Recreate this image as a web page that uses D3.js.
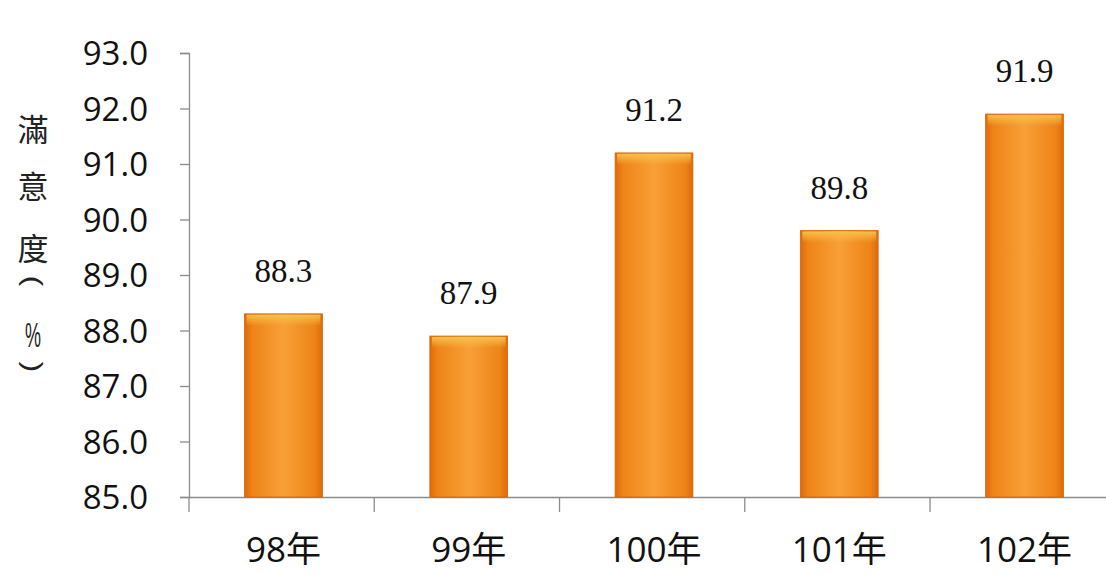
<!DOCTYPE html>
<html>
<head>
<meta charset="utf-8">
<script src="https://cdn.jsdelivr.net/npm/d3@7"></script>
<style>
  html, body { margin: 0; padding: 0; background: #fff; }
  svg { display: block; }
</style>
</head>
<body>
<svg id="chart" width="1106" height="575"></svg>
<script>
// Satisfaction by year (%)
const categories = ["98年", "99年", "100年", "101年", "102年"];
const values = [88.3, 87.9, 91.2, 89.8, 91.9];
const yTicks = [85, 86, 87, 88, 89, 90, 91, 92, 93];
const yTitle = ["滿", "意", "度", "(", "%", ")"];

const svg = d3.select("#chart");
const plot = { left: 189, right: 1119, top: 53, bottom: 497 };
const sans = "'Open Sans', 'Noto Sans CJK TC', sans-serif";

const x = d3.scaleBand()
  .domain(categories)
  .range([plot.left, plot.right])
  .paddingInner(0.58)
  .paddingOuter(0.3);

const y = d3.scaleLinear()
  .domain([85, 93])
  .range([plot.bottom, plot.top]);

// Bar fill: horizontal shading, darker edges
const defs = svg.append("defs");
const g1 = defs.append("linearGradient").attr("id", "barH").attr("x1", 0).attr("x2", 1).attr("y1", 0).attr("y2", 0);
[["0%", "#de6a0a"], ["10%", "#ee8418"], ["50%", "#f8a036"], ["90%", "#ee8418"], ["100%", "#de6a0a"]]
  .forEach(([o, c]) => g1.append("stop").attr("offset", o).attr("stop-color", c));
const g2 = defs.append("linearGradient").attr("id", "barTop").attr("x1", 0).attr("x2", 0).attr("y1", 0).attr("y2", 1);
[["0%", "#f6c34c", 0.95], ["100%", "#f6c34c", 0]]
  .forEach(([o, c, a]) => g2.append("stop").attr("offset", o).attr("stop-color", c).attr("stop-opacity", a));

// Y axis
const yAxis = svg.append("g")
  .attr("transform", `translate(${plot.left},0)`)
  .call(d3.axisLeft(y).tickValues(yTicks).tickFormat(d3.format(".1f")).tickSize(9).tickPadding(32));
yAxis.select(".domain").attr("stroke", "#8c8c8c").attr("stroke-width", 1.3);
yAxis.selectAll(".tick line").attr("stroke", "#8c8c8c").attr("stroke-width", 1.3);
yAxis.selectAll(".tick text")
  .attr("font-family", sans)
  .attr("font-size", 33)
  .attr("fill", "#111")
  .attr("dy", "0.36em");

// X axis
const xAxis = svg.append("g")
  .attr("transform", `translate(0,${plot.bottom})`)
  .call(d3.axisBottom(x).tickSize(0).tickPadding(40));
xAxis.select(".domain").attr("stroke", "#8c8c8c").attr("stroke-width", 1.3);
xAxis.selectAll(".tick text")
  .attr("font-family", sans)
  .attr("font-size", 35)
  .attr("fill", "#111");

// Category separators below the x axis
const step = x.step();
const seps = d3.range(categories.length + 1).map(i => plot.left + i * step);
svg.append("g").selectAll("line")
  .data(seps)
  .join("line")
  .attr("x1", d => d).attr("x2", d => d)
  .attr("y1", plot.bottom).attr("y2", plot.bottom + 15)
  .attr("stroke", "#8c8c8c").attr("stroke-width", 1.3);

// Bars
const bars = svg.append("g");
bars.selectAll("rect.bar")
  .data(values)
  .join("rect")
  .attr("class", "bar")
  .attr("x", (d, i) => x(categories[i]))
  .attr("y", d => y(d))
  .attr("width", x.bandwidth())
  .attr("height", d => plot.bottom - y(d))
  .attr("fill", "url(#barH)")
  .attr("stroke", "#d4650a")
  .attr("stroke-width", 0.8);
bars.selectAll("rect.top")
  .data(values)
  .join("rect")
  .attr("class", "top")
  .attr("x", (d, i) => x(categories[i]) + 2)
  .attr("y", d => y(d) + 1)
  .attr("width", x.bandwidth() - 4)
  .attr("height", 11)
  .attr("fill", "url(#barTop)");

// Value labels
svg.append("g").selectAll("text")
  .data(values)
  .join("text")
  .attr("x", (d, i) => x(categories[i]) + x.bandwidth() / 2)
  .attr("y", d => y(d) - 32)
  .attr("text-anchor", "middle")
  .attr("font-family", "'Liberation Serif', 'Times New Roman', serif")
  .attr("font-size", 33)
  .attr("fill", "#111")
  .text(d => d.toFixed(1));

// Vertical axis title, one glyph per line; brackets turned for vertical setting
const titleY = [127, 184, 246, 281, 335, 367];
const tx = 33;
const isBracket = d => d === "(" || d === ")";
const titleCells = svg.append("g").selectAll("g")
  .data(yTitle)
  .join("g")
  .attr("transform", (d, i) => {
    if (isBracket(d)) return `translate(${tx},${titleY[i]}) rotate(90) scale(1.25,1)`;
    if (d === "%") return `translate(${tx},${titleY[i]}) scale(0.75,1.45)`;
    return `translate(${tx},${titleY[i]})`;
  });
titleCells.append("text")
  .attr("x", 0)
  .attr("y", 0)
  .attr("text-anchor", "middle")
  .attr("dominant-baseline", "central")
  .attr("font-family", d => (isBracket(d) || d === "%") ? "'Liberation Sans', sans-serif" : "'Noto Sans CJK TC', sans-serif")
  .attr("font-size", d => d === "%" ? 24 : isBracket(d) ? 26 : 31)
  .attr("fill", "#222")
  .text(d => d);
</script>
</body>
</html>
